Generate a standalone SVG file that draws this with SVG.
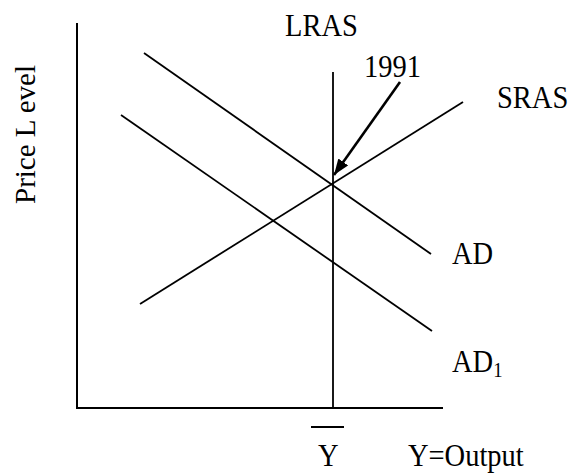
<svg xmlns="http://www.w3.org/2000/svg" width="571" height="473" viewBox="0 0 571 473">
<style>
.t{font-family:"Liberation Serif","Times New Roman",serif;font-size:32px;fill:#000}
.ln{stroke:#000;stroke-width:1.8;fill:none}
.ax{stroke:#000;stroke-width:2;fill:none}
</style>
<defs>
<marker id="ah" markerUnits="userSpaceOnUse" markerWidth="20" markerHeight="16" refX="16" refY="6" orient="auto">
<path d="M0,0 L16,6 L0,12 Z" fill="#000"/>
</marker>
</defs>
<rect width="571" height="473" fill="#fff"/>
<g id="axes">
<line class="ax" x1="77" y1="23" x2="77" y2="408"/>
<line class="ax" x1="76" y1="408" x2="443" y2="408"/>
</g>
<g id="connectors">
<line class="ln" x1="333" y1="72" x2="333" y2="408"/>
<line class="ln" x1="144" y1="53" x2="431" y2="254"/>
<line class="ln" x1="121" y1="115" x2="432" y2="331"/>
<line class="ln" x1="140" y1="304" x2="463" y2="102"/>
<line stroke="#000" stroke-width="2.6" x1="400" y1="82" x2="334" y2="175" marker-end="url(#ah)"/>
</g>
<g id="lras"><text class="t" transform="translate(285,36) scale(0.89,1)">LRAS</text></g>
<g id="y1991"><text class="t" transform="translate(364,77) scale(0.89,1)">1991</text></g>
<g id="sras"><text class="t" transform="translate(497,108) scale(0.89,1)">SRAS</text></g>
<g id="ad"><text class="t" transform="translate(452,264) scale(0.89,1)">AD</text></g>
<g id="ad1"><text class="t" transform="translate(452,372) scale(0.89,1)">AD<tspan font-size="21" dy="5">1</tspan></text></g>
<g id="ylabel"><text class="t" style="font-size:29px" transform="translate(35,204) rotate(-90)">Price L evel</text></g>
<g id="ybar">
<line class="ln" x1="311" y1="427" x2="344" y2="427"/>
<text class="t" transform="translate(318,466) scale(0.89,1)">Y</text>
</g>
<g id="youtput"><text class="t" transform="translate(408,466) scale(0.89,1)">Y=Output</text></g>
</svg>
